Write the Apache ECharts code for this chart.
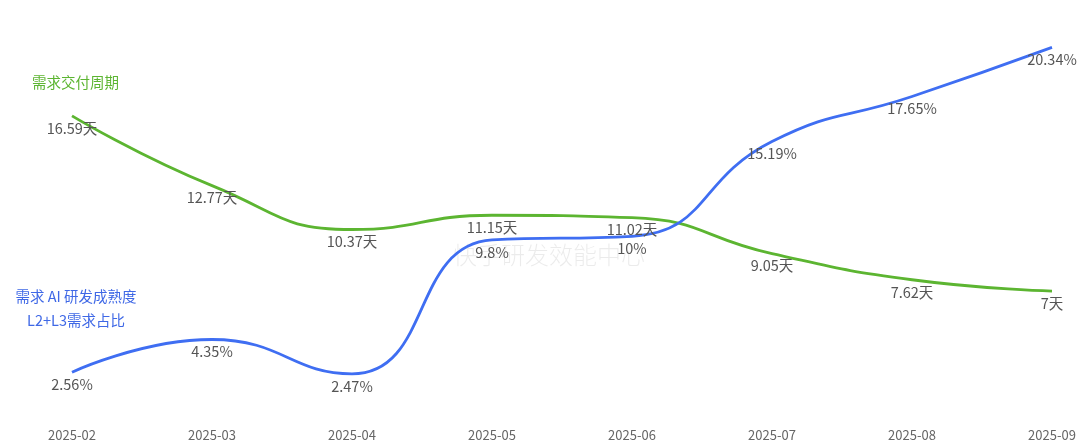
<!DOCTYPE html>
<html><head><meta charset="utf-8">
<script src="https://cdn.jsdelivr.net/npm/echarts@6/dist/echarts.min.js"></script>
<style>html,body{margin:0;padding:0;background:#fff}#c{width:1080px;height:444px}</style>
</head><body><div id="c"></div>
<script>
const months = ['2025-02','2025-03','2025-04','2025-05','2025-06','2025-07','2025-08','2025-09'];
const cycleDays = [16.59, 12.77, 10.37, 11.15, 11.02, 9.05, 7.62, 7];
const aiRatio = [2.56, 4.35, 2.47, 9.8, 10, 15.19, 17.65, 20.34];
const greenName = '需求交付周期';
const blueName1 = '需求 AI 研发成熟度';
const blueName2 = 'L2+L3需求占比';
const watermark = '快手研发效能中心';

const chart = echarts.init(document.getElementById('c'));
const font = '"Noto Sans CJK SC", "Noto Sans", sans-serif';
const lbl = (suffix) => ({show: true, position: 'bottom', distance: 4, color: '#555', fontSize: 14.5, fontFamily: font,
  opacity: 1, formatter: p => p.value + suffix});
chart.setOption({
  animation: false,
  textStyle: {fontFamily: font},
  grid: {left: 72, right: 28, top: 17, bottom: 25},
  xAxis: {
    type: 'category', data: months, boundaryGap: false,
    axisLine: {show: false}, axisTick: {show: false}, splitLine: {show: false},
    axisLabel: {color: '#666', fontSize: 13, margin: 10, fontFamily: font}
  },
  yAxis: [
    {type: 'value', min: 0, max: 22, show: false, splitLine: {show: false}},
    {type: 'value', min: 0, max: 22, show: false, splitLine: {show: false}}
  ],
  graphic: [
    {type: 'text', z: 0, style: {x: 32, y: 75, text: greenName, fill: '#5cb531', fontSize: 14.5, fontFamily: font}},
    {type: 'text', z: 0, style: {x: 76, y: 289, text: blueName1, fill: '#3f68e6', fontSize: 14.5, align: 'center', fontFamily: font}},
    {type: 'text', z: 0, style: {x: 76, y: 313, text: blueName2, fill: '#3f68e6', fontSize: 14.5, align: 'center', fontFamily: font}},
    {type: 'text', z: 0, style: {x: 549, y: 243, text: watermark, fill: 'rgba(0,0,0,0.08)', fontSize: 24, fontWeight: 300, align: 'center', fontFamily: font}}
  ],
  series: [
    {
      name: '需求交付周期', type: 'line', data: cycleDays, yAxisIndex: 0, smooth: true,
      symbol: 'circle', symbolSize: 2, showSymbol: true,
      lineStyle: {color: '#5cb531', width: 2.8}, itemStyle: {color: 'rgba(0,0,0,0)', borderWidth: 0},
      label: lbl('天')
    },
    {
      name: 'AI', type: 'line', data: aiRatio, yAxisIndex: 1, smooth: true,
      symbol: 'circle', symbolSize: 2, showSymbol: true,
      lineStyle: {color: '#3f6ef2', width: 2.8}, itemStyle: {color: 'rgba(0,0,0,0)', borderWidth: 0},
      label: lbl('%')
    }
  ]
});
</script></body></html>
